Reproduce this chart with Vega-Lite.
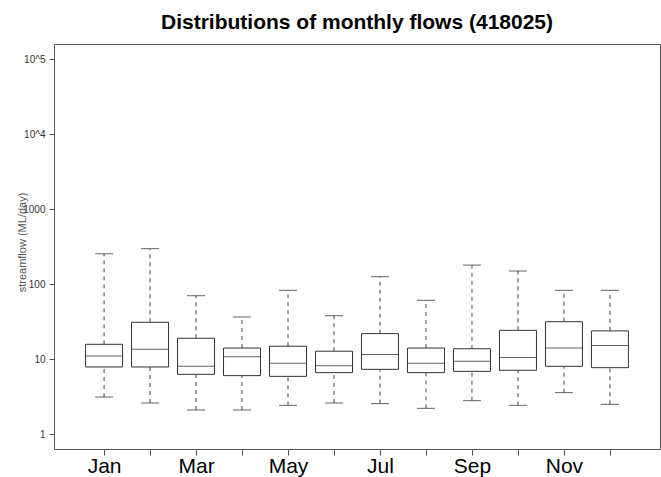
{
  "$schema": "https://vega.github.io/schema/vega-lite/v6.json",
  "width": 606,
  "height": 405,
  "autosize": {"type": "none"},
  "padding": {"left": 54, "top": 44, "right": 1, "bottom": 28},
  "background": "white",
  "title": {
    "text": "Distributions of monthly flows (418025)",
    "font": "Liberation Sans",
    "fontSize": 21,
    "fontWeight": "bold",
    "color": "#000000",
    "anchor": "middle",
    "frame": "group",
    "baseline": "bottom",
    "offset": 12,
    "dy": 22
  },
  "config": {
    "view": {"stroke": "#555555", "strokeWidth": 1},
    "axis": {"grid": false, "domain": false, "tickColor": "#555555", "labelFont": "Liberation Sans", "titleFont": "Liberation Sans"}
  },
  "data": {
    "values": [
      {"month": "Jan", "pos": 1, "lower": 3.11, "q1": 7.82, "median": 11.0, "q3": 15.7, "upper": 253},
      {"month": "Feb", "pos": 2, "lower": 2.59, "q1": 7.82, "median": 13.5, "q3": 30.9, "upper": 296},
      {"month": "Mar", "pos": 3, "lower": 2.09, "q1": 6.25, "median": 7.99, "q3": 18.9, "upper": 69.8},
      {"month": "Apr", "pos": 4, "lower": 2.09, "q1": 6.0, "median": 10.7, "q3": 14.0, "upper": 36.3},
      {"month": "May", "pos": 5, "lower": 2.41, "q1": 5.87, "median": 8.75, "q3": 14.8, "upper": 82.4},
      {"month": "Jun", "pos": 6, "lower": 2.59, "q1": 6.57, "median": 8.15, "q3": 12.7, "upper": 37.8},
      {"month": "Jul", "pos": 7, "lower": 2.54, "q1": 7.28, "median": 11.5, "q3": 21.8, "upper": 125},
      {"month": "Aug", "pos": 8, "lower": 2.2, "q1": 6.57, "median": 8.75, "q3": 14.0, "upper": 60.6},
      {"month": "Sep", "pos": 9, "lower": 2.78, "q1": 6.85, "median": 9.31, "q3": 13.7, "upper": 179},
      {"month": "Oct", "pos": 10, "lower": 2.41, "q1": 7.07, "median": 10.5, "q3": 24.1, "upper": 149},
      {"month": "Nov", "pos": 11, "lower": 3.56, "q1": 7.99, "median": 14.0, "q3": 31.4, "upper": 82.4},
      {"month": "Dec", "pos": 12, "lower": 2.49, "q1": 7.66, "median": 15.1, "q3": 23.7, "upper": 82.4}
    ]
  },
  "encoding": {
    "x": {
      "field": "pos",
      "type": "quantitative",
      "scale": {"domain": [0.02, 12.98], "nice": false, "zero": false},
      "axis": {
        "title": null,
        "values": [1, 2, 3, 4, 5, 6, 7, 8, 9, 10, 11, 12],
        "labelExpr": "['Jan','','Mar','','May','','Jul','','Sep','','Nov',''][datum.value-1]",
        "labelFontSize": 21,
        "labelColor": "#000000",
        "tickSize": 6,
        "labelPadding": 0,
        "labelFlush": false,
        "labelOverlap": false
      }
    }
  },
  "layer": [
    {
      "mark": {"type": "rule", "color": "#444444", "strokeWidth": 1, "strokeDash": [4, 4]},
      "encoding": {
        "y": {
          "field": "lower",
          "type": "quantitative",
          "scale": {"type": "log", "domain": [0.631, 158489], "nice": false},
          "axis": {
            "title": "streamflow (ML/day)",
            "values": [1, 10, 100, 1000, 10000, 100000],
            "labelExpr": "datum.value == 100000 ? '10^5' : datum.value == 10000 ? '10^4' : datum.value == 1000 ? '1000' : datum.value == 100 ? '100' : datum.value == 10 ? '10' : '1'",
            "labelFontSize": 10,
            "labelColor": "#333333",
            "tickSize": 5,
            "labelPadding": 4,
            "titleFontSize": 11,
            "titleFontWeight": "normal",
            "titleColor": "#555555",
            "titleAngle": -90,
            "titleBaseline": "alphabetic",
            "titleAlign": "center",
            "titleX": -29,
            "titleY": 198
          }
        },
        "y2": {"field": "q1"}
      }
    },
    {
      "mark": {"type": "rule", "color": "#444444", "strokeWidth": 1, "strokeDash": [4, 4]},
      "encoding": {
        "y": {"field": "q3", "type": "quantitative"},
        "y2": {"field": "upper"}
      }
    },
    {
      "mark": {"type": "bar", "width": 37, "fill": "white", "stroke": "#333333", "strokeWidth": 1},
      "encoding": {
        "y": {"field": "q1", "type": "quantitative"},
        "y2": {"field": "q3"}
      }
    },
    {
      "mark": {"type": "tick", "orient": "horizontal", "size": 37, "thickness": 1, "color": "#222222"},
      "encoding": {"y": {"field": "median", "type": "quantitative"}}
    },
    {
      "mark": {"type": "tick", "orient": "horizontal", "size": 18, "thickness": 1, "color": "#222222"},
      "encoding": {"y": {"field": "upper", "type": "quantitative"}}
    },
    {
      "mark": {"type": "tick", "orient": "horizontal", "size": 18, "thickness": 1, "color": "#222222"},
      "encoding": {"y": {"field": "lower", "type": "quantitative"}}
    }
  ]
}
